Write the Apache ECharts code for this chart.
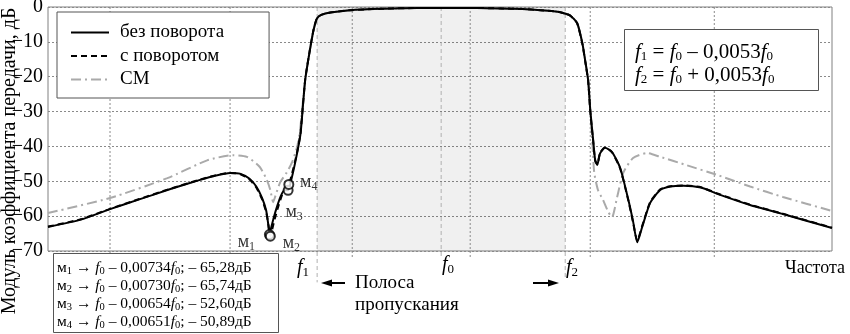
<!DOCTYPE html>
<html><head><meta charset="utf-8">
<script src="https://cdn.jsdelivr.net/npm/echarts@6/dist/echarts.min.js"></script>
<style>html,body{margin:0;padding:0;background:#fff}#c{width:850px;height:334px}</style>
</head><body><div id="c"></div>
<script>
// ---- data (frequency detuning in units of 0.001·f0, gain in dB) ----
const seriesNames = ['без поворота', 'с поворотом', 'СМ'];
const yTicks = [0, -10, -20, -30, -40, -50, -60, -70];
const xGridTicks = [-14.15, -9.02, -3.80, 1.24, 6.37, 11.67];
const bandEdges = { f1: -5.3, f0: 0, f2: 5.3 };

const freqSolid = [-16.8,-15.4,-14.15,-12.9,-11.6,-10.3,-9.66,-9.02,-8.6,-8.2,-7.9,-7.65,-7.48,-7.4,-7.34,-7.27,-7.15,-7.0,-6.85,-6.7,-6.54,-6.42,-6.25,-6.1,-6.0,-5.81,-5.6,-5.45,-5.3,-5.1,-4.74,-3.9,-2.5,-1.0,0,1.5,2.5,3.5,4.23,4.8,5.09,5.5,5.81,6.03,6.15,6.28,6.37,6.5,6.58,6.67,6.79,7.0,7.3,7.65,8.0,8.2,8.38,8.59,8.93,9.36,9.8,10.35,11.1,11.8,13.2,14.6,16.7];
const gainSolid = [-63.1,-61.0,-58.0,-55.2,-52.3,-49.6,-48.4,-47.6,-47.8,-49.2,-51.5,-54.8,-58.3,-61.8,-65.28,-63.5,-60.3,-57.0,-54.2,-52.6,-52.6,-50.0,-45.0,-40.0,-35.8,-20.9,-12.0,-6.5,-3.2,-2.2,-1.6,-0.9,-0.5,-0.3,-0.3,-0.3,-0.4,-0.6,-0.9,-1.2,-1.5,-2.4,-4.6,-10.3,-15.2,-21.0,-29.5,-38.5,-43.9,-45.3,-42.0,-40.4,-41.6,-46.2,-55.4,-61.5,-67.5,-63.1,-56.2,-52.5,-51.5,-51.3,-51.8,-53.6,-56.8,-59.4,-63.4];

const freqDashed = [-16.8,-15.4,-14.15,-12.9,-11.6,-10.3,-9.66,-9.02,-8.6,-8.2,-7.9,-7.65,-7.48,-7.38,-7.30,-7.22,-7.1,-6.95,-6.8,-6.65,-6.51,-6.4,-6.25,-6.1,-6.0,-5.81,-5.6,-5.45,-5.3,-5.1,-4.74,-3.9,-2.5,-1.0,0,1.5,2.5,3.5,4.23,4.8,5.09,5.5,5.81,6.03,6.15,6.28,6.37,6.5,6.58,6.67,6.79,7.0,7.3,7.65,8.0,8.2,8.38,8.59,8.93,9.36,9.8,10.35,11.1,11.8,13.2,14.6,16.7];
const gainDashed = [-63.0,-60.9,-57.9,-55.1,-52.2,-49.5,-48.3,-47.6,-47.9,-49.4,-51.8,-55.2,-58.8,-62.4,-65.74,-63.8,-60.5,-57.0,-54.0,-52.0,-50.89,-48.5,-44.5,-39.8,-35.6,-20.8,-11.9,-6.4,-3.1,-2.2,-1.6,-0.9,-0.5,-0.3,-0.3,-0.3,-0.4,-0.6,-0.9,-1.2,-1.5,-2.4,-4.7,-10.5,-15.4,-21.2,-29.8,-38.8,-44.1,-45.1,-41.8,-40.3,-41.7,-46.4,-55.6,-61.8,-67.0,-62.8,-56.0,-52.3,-51.4,-51.2,-51.7,-53.5,-56.7,-59.3,-63.3];

const freqCM = [-16.8,-14.15,-11.7,-10.0,-8.9,-8.3,-7.75,-7.45,-7.3,-7.18,-7.05,-6.88,-6.6,-6.37,-6.15,-6.03,-5.81,-5.6,-5.45,-5.3,-5.1,-4.74,-3.9,-2.5,-1.0,0,1.5,2.5,3.5,4.23,4.8,5.09,5.5,5.81,6.03,6.15,6.28,6.37,6.47,6.54,6.7,6.92,7.14,7.3,7.52,7.78,8.2,8.8,9.36,10.5,11.8,13.2,14.6,16.7];
const gainCM = [-59.1,-54.8,-49.1,-44.0,-42.5,-43.0,-45.9,-49.6,-52.5,-56.0,-53.5,-50.3,-47.5,-44.5,-40.0,-35.3,-20.9,-12.0,-6.5,-3.2,-2.2,-1.6,-0.9,-0.5,-0.3,-0.3,-0.3,-0.4,-0.6,-0.9,-1.2,-1.5,-2.4,-4.6,-10.3,-15.2,-21.0,-29.5,-40.0,-47.5,-52.5,-55.4,-58.8,-60.3,-54.5,-47.6,-43.3,-41.9,-43.0,-45.4,-48.2,-51.5,-54.5,-58.5];

const markerNames = ['1', '2', '3', '4'];
const markerFreq = [-7.34, -7.30, -6.54, -6.51];
const markerGain = [-65.28, -65.74, -52.60, -50.89];
const markerTable = [
  ['1', '0,00734', '65,28'],
  ['2', '0,00730', '65,74'],
  ['3', '0,00654', '52,60'],
  ['4', '0,00651', '50,89']
];

// ---- chart ----
const SERIF = 'Liberation Serif';
const zip = (xs, ys) => xs.map((x, i) => [x, ys[i]]);
const T = (fs, extra) => Object.assign({ fontSize: fs, fontFamily: SERIF, color: '#000' }, extra || {});
const richBase = (fs, sfs, pad) => ({
  n: T(fs),
  i: T(fs, { fontStyle: 'italic' }),
  s: T(sfs, { padding: [pad, 0, 0, 0] })
});
const plain = (s) => '{n|' + s + '}';

const chart = echarts.init(document.getElementById('c'), null, { renderer: 'canvas' });

const markerLabelOffsets = [[-23, 8], [21, 7], [6, 22], [20, -2]];

// vertical reference lines built as short line segments (break with null)
const segs = (xs, bottoms) => {
  const out = [];
  xs.forEach((x, k) => { out.push([x, 0], [x, bottoms[k]], [x, null]); });
  return out;
};
const fXs = [bandEdges.f1, bandEdges.f0, bandEdges.f2];
const fBottoms = [-79, -71.5, -78];
const gridBottoms = xGridTicks.map(() => -71.8);

const tableLines = markerTable.map(r =>
  `{m|м}{s|${r[0]}}{n| → }{i|f}{s|0}{n| – ${r[1]}}{i|f}{s|0}{n|; – ${r[2]}дБ}`).join('\n');

const option = {
  animation: false,
  backgroundColor: '#fff',
  textStyle: { fontFamily: SERIF },
  grid: { left: 48, right: 18, top: 7, bottom: 83, containLabel: false, outerBoundsMode: 'none',
    show: true, borderColor: '#808080', borderWidth: 1, backgroundColor: 'transparent' },
  xAxis: {
    type: 'value', min: -16.8, max: 16.7,
    axisLine: { show: false }, axisTick: { show: false }, axisLabel: { show: false }, splitLine: { show: false }
  },
  yAxis: {
    type: 'value', min: -70, max: 0, interval: 10,
    axisLine: { show: false }, axisTick: { show: false },
    axisLabel: { fontFamily: SERIF, fontSize: 20, color: '#000', margin: 5, overflow: 'none', width: 60,
      formatter: v => { const r = Math.round(v); return plain(r < 0 ? '\u2212' + Math.abs(r) : String(r)); },
      rich: { n: T(20) } },
    splitLine: { show: true, lineStyle: { color: '#8a8a8a', type: [2, 2], width: 1 } }
  },
  legend: {
    orient: 'vertical', left: 57, top: 12,
    data: seriesNames,
    itemWidth: 38, itemHeight: 14, itemGap: 4.5,
    padding: [11, 45, 9, 13],
    borderColor: '#555', borderWidth: 1, backgroundColor: '#fff',
    itemStyle: { opacity: 0 },
    formatter: name => plain(name),
    textStyle: { fontFamily: SERIF, fontSize: 19, color: '#000', padding: [0, 0, 0, 6], rich: { n: T(19) } }
  },
  series: [
    {
      name: 'band', type: 'line', data: [], silent: true, z: 1,
      markArea: { silent: true, itemStyle: { color: 'rgba(0,0,0,0.06)' },
        data: [[{ xAxis: bandEdges.f1, yAxis: 0 }, { xAxis: bandEdges.f2, yAxis: -70 }]] }
    },
    { name: 'vgrid', type: 'line', data: segs(xGridTicks, gridBottoms), clip: false, silent: true, z: 1,
      symbol: 'none', connectNulls: false, lineStyle: { color: '#8a8a8a', type: [2, 2], width: 1 } },
    { name: 'flines', type: 'line', data: segs(fXs, fBottoms), clip: false, silent: true, z: 1,
      symbol: 'none', connectNulls: false, lineStyle: { color: '#b0b0b0', type: [4, 3], width: 1 } },
    { name: 'СМ', type: 'line', data: zip(freqCM, gainCM), symbol: 'none', smooth: 0.2, z: 3,
      color: '#aaaaaa', itemStyle: { color: '#aaaaaa' },
      lineStyle: { color: '#aaaaaa', width: 2, type: [10, 4, 2, 4] } },
    { name: 'без поворота', type: 'line', data: zip(freqSolid, gainSolid), symbol: 'none', smooth: 0.2, z: 4,
      color: '#000', itemStyle: { color: '#000' },
      lineStyle: { color: '#000', width: 2, type: 'solid' } },
    { name: 'с поворотом', type: 'line', data: zip(freqDashed, gainDashed), symbol: 'none', smooth: 0.2, z: 5,
      color: '#000', itemStyle: { color: '#000' },
      lineStyle: { color: '#000', width: 2, type: [6, 4] } },
    { name: 'markers', type: 'scatter', z: 6, symbol: 'emptyCircle', symbolSize: 9,
      itemStyle: { color: '#000', borderColor: '#000', borderWidth: 1.5 },
      data: markerFreq.map((x, i) => ({
        value: [x, markerGain[i]],
        label: { show: true, position: 'inside', offset: markerLabelOffsets[i],
          formatter: `{m|м}{s|${markerNames[i]}}`,
          rich: { m: T(18), s: T(12, { padding: [9, 0, 0, 0] }) } }
      }))
    }
  ],
  graphic: [
    { type: 'text', x: 10, y: 161, rotation: Math.PI / 2, z: -1,
      style: { text: plain('Модуль коэффициента передачи, дБ'), rich: { n: T(20) }, align: 'center', verticalAlign: 'middle' } },
    { type: 'text', x: 815, y: 268,
      style: { text: plain('Частота'), rich: { n: T(18) }, align: 'center', verticalAlign: 'middle' } },
    { type: 'text', x: 355, y: 283,
      style: { text: plain('Полоса'), rich: { n: T(19) }, align: 'left', verticalAlign: 'middle' } },
    { type: 'text', x: 355, y: 305,
      style: { text: plain('пропускания'), rich: { n: T(19) }, align: 'left', verticalAlign: 'middle' } },
    { type: 'text', x: 303, y: 268,
      style: { text: '{i|f}{s|1}', rich: richBase(20, 13, 9), align: 'center', verticalAlign: 'middle' } },
    { type: 'text', x: 448, y: 265,
      style: { text: '{i|f}{s|0}', rich: richBase(20, 13, 9), align: 'center', verticalAlign: 'middle' } },
    { type: 'text', x: 572, y: 268,
      style: { text: '{i|f}{s|2}', rich: richBase(20, 13, 9), align: 'center', verticalAlign: 'middle' } },
    // arrows
    { type: 'line', shape: { x1: 330, y1: 283, x2: 345, y2: 283 }, style: { stroke: '#000', lineWidth: 2 } },
    { type: 'polygon', shape: { points: [[321, 283], [332, 279.5], [332, 286.5]] }, style: { fill: '#000' } },
    { type: 'line', shape: { x1: 533, y1: 283, x2: 549, y2: 283 }, style: { stroke: '#000', lineWidth: 2 } },
    { type: 'polygon', shape: { points: [[559, 283], [548, 279.5], [548, 286.5]] }, style: { fill: '#000' } },
    // right annotation box
    { type: 'rect', shape: { x: 624.5, y: 29.5, width: 194, height: 61 }, style: { fill: '#fff', stroke: '#555', lineWidth: 1 }, z: 10 },
    { type: 'text', x: 635, y: 52, z: 11,
      style: { text: '{i|f}{s|1}{n| = }{i|f}{s|0}{n| – 0,0053}{i|f}{s|0}', rich: richBase(21, 13, 9), align: 'left', verticalAlign: 'middle' } },
    { type: 'text', x: 635, y: 75, z: 11,
      style: { text: '{i|f}{s|2}{n| = }{i|f}{s|0}{n| + 0,0053}{i|f}{s|0}', rich: richBase(21, 13, 9), align: 'left', verticalAlign: 'middle' } },
    // bottom-left marker table
    { type: 'rect', shape: { x: 53.5, y: 253.5, width: 225, height: 79 }, style: { fill: '#fff', stroke: '#555', lineWidth: 1 }, z: 10 },
    { type: 'text', x: 57, y: 295, z: 11,
      style: { text: tableLines, align: 'left', verticalAlign: 'middle',
        rich: {
          m: T(15.5, { lineHeight: 16 }),
          n: T(15.5, { lineHeight: 16 }),
          i: T(15.5, { fontStyle: 'italic', lineHeight: 16 }),
          s: T(10.5, { padding: [7, 0, 0, 0] })
        } } }
  ]
};
chart.setOption(option);
</script>
</body></html>
